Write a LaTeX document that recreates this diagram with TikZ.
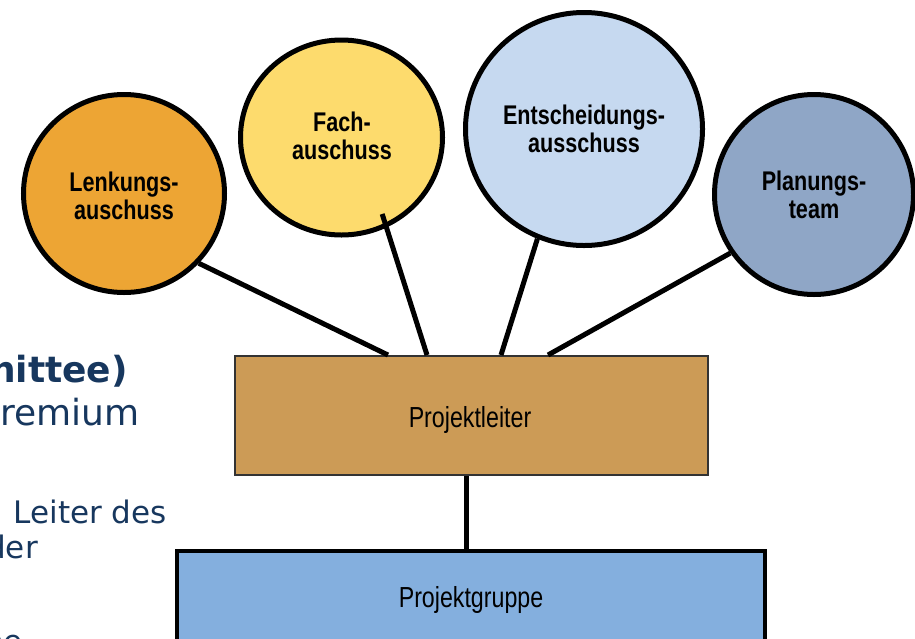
\documentclass[tikz,border=0pt]{standalone}
\usepackage{fontspec}
\usetikzlibrary{shapes.geometric,calc}
\newfontfamily\diagfont[FakeStretch=0.80]{Liberation Sans}
\newfontfamily\slidefont{DejaVu Sans}
\definecolor{lenkfill}{RGB}{237,165,52}
\definecolor{fachfill}{RGB}{253,219,109}
\definecolor{entfill}{RGB}{198,217,240}
\definecolor{planfill}{RGB}{143,166,198}
\definecolor{leiterfill}{RGB}{204,155,86}
\definecolor{gruppefill}{RGB}{132,175,222}
\definecolor{slidenavy}{RGB}{23,55,94}
\begin{document}
\begin{tikzpicture}[x=1pt,y=-1pt,
  bubble/.style={ellipse, draw=black, line width=5pt, inner sep=0pt},
  bubbletext/.style={font=\diagfont\bfseries\fontsize{27}{28.5}\selectfont, align=center, inner sep=0pt},
  link/.style={draw=black, line width=5pt},
  boxtext/.style={font=\diagfont\fontsize{29}{31}\selectfont, inner sep=0pt, anchor=base},
  slidetext/.style={font=\slidefont\fontsize{31}{34}\selectfont, text=slidenavy, inner sep=0pt, anchor=base east}]
\clip (0,0) rectangle (915,638);
\fill[white] (0,0) rectangle (915,638);

% text of the slide behind the chart
\node[slidetext, font=\slidefont\bfseries\fontsize{36}{40}\selectfont] (t1) at (128,382) {nittee)};
\node[slidetext, font=\slidefont\fontsize{36}{40}\selectfont] (t2) at (140,425) {remium};
\node[slidetext] (t3) at (167,523) {Leiter des};
\node[slidetext] (t4) at (38,558) {der};
\node[slidetext] (t5) at (23,652) {ne};

% committees
\node[bubble, fill=lenkfill, minimum width=201pt, minimum height=198pt] (lenk) at (124,193.5) {};
\node[bubble, fill=fachfill, minimum width=202pt, minimum height=195pt] (fach) at (341.5,137.5) {};
\node[bubble, fill=entfill, minimum width=237pt, minimum height=233pt] (ent) at (584,129) {};
\node[bubble, fill=planfill, minimum width=199pt, minimum height=200pt] (plan) at (814,194.5) {};

\node[bubbletext] (lenkT) at (124,196) {Lenkungs-\\auschuss};
\node[bubbletext] (fachT) at (342,136) {Fach-\\auschuss};
\node[bubbletext] (entT) at (584,129) {Entscheidungs-\\ausschuss};
\node[bubbletext] (planT) at (814,195) {Planungs-\\team};

% project manager and project group
\node[draw=black!80, line width=2pt, fill=leiterfill, minimum width=473pt, minimum height=119pt, inner sep=0pt] (leiter) at (471.5,415.5) {};
\node[draw=black, line width=4pt, fill=gruppefill, minimum width=588pt, minimum height=120pt, inner sep=0pt] (gruppe) at (471,611) {};
\node[boxtext] (leiterT) at (470,427) {Projektleiter};
\node[boxtext] (gruppeT) at (471,607) {Projektgruppe};

% connectors
\draw[link] (lenk.-43.5) -- ([xshift=-83.5pt]leiter.north);
\draw[link] ($(fach.center)!0.86!(fach.-62)$) -- ([xshift=-44.5pt]leiter.north);
\draw[link] (ent.-113) -- ([xshift=29.5pt]leiter.north);
\draw[link] (plan.-145) -- ([xshift=76.5pt]leiter.north);
\draw[link] ([xshift=-5.5pt]leiter.south) -- ([xshift=-5.5pt]leiter.south |- gruppe.north);
\end{tikzpicture}
\end{document}
